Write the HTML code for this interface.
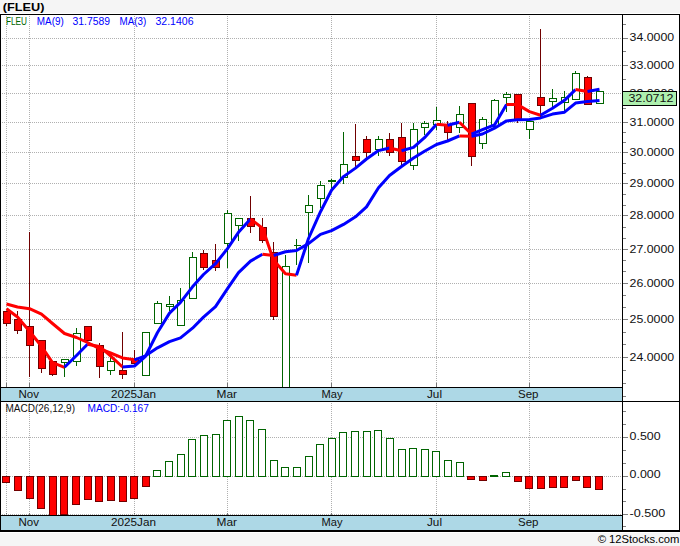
<!DOCTYPE html><html><head><meta charset="utf-8"><title>FLEU</title><style>html,body{margin:0;padding:0;background:#f5f5f5}svg{display:block}text{font-family:"Liberation Sans",sans-serif}</style></head><body>
<svg width="680" height="546" viewBox="0 0 680 546">
<rect x="0" y="0" width="680" height="546" fill="#f5f5f5"/>
<rect x="0" y="13" width="680" height="520" fill="#fff"/>
<rect x="1" y="388" width="621" height="13" fill="#add8e6"/>
<rect x="1" y="516" width="621" height="14" fill="#add8e6"/>
<line x1="6.5" y1="14" x2="6.5" y2="383" stroke="#b0b0b0" stroke-width="1" stroke-dasharray="1,1" shape-rendering="crispEdges"/>
<line x1="6.5" y1="401" x2="6.5" y2="513" stroke="#b0b0b0" stroke-width="1" stroke-dasharray="1,1" shape-rendering="crispEdges"/>
<rect x="6" y="383" width="1" height="4" fill="#777" shape-rendering="crispEdges"/>
<rect x="6" y="513" width="1" height="2" fill="#777" shape-rendering="crispEdges"/>
<line x1="29.5" y1="14" x2="29.5" y2="383" stroke="#b0b0b0" stroke-width="1" stroke-dasharray="1,1" shape-rendering="crispEdges"/>
<line x1="29.5" y1="401" x2="29.5" y2="513" stroke="#b0b0b0" stroke-width="1" stroke-dasharray="1,1" shape-rendering="crispEdges"/>
<rect x="29" y="383" width="1" height="4" fill="#777" shape-rendering="crispEdges"/>
<rect x="29" y="513" width="1" height="2" fill="#777" shape-rendering="crispEdges"/>
<line x1="134.5" y1="14" x2="134.5" y2="383" stroke="#b0b0b0" stroke-width="1" stroke-dasharray="1,1" shape-rendering="crispEdges"/>
<line x1="134.5" y1="401" x2="134.5" y2="513" stroke="#b0b0b0" stroke-width="1" stroke-dasharray="1,1" shape-rendering="crispEdges"/>
<rect x="134" y="383" width="1" height="4" fill="#777" shape-rendering="crispEdges"/>
<rect x="134" y="513" width="1" height="2" fill="#777" shape-rendering="crispEdges"/>
<line x1="227.5" y1="14" x2="227.5" y2="383" stroke="#b0b0b0" stroke-width="1" stroke-dasharray="1,1" shape-rendering="crispEdges"/>
<line x1="227.5" y1="401" x2="227.5" y2="513" stroke="#b0b0b0" stroke-width="1" stroke-dasharray="1,1" shape-rendering="crispEdges"/>
<rect x="227" y="383" width="1" height="4" fill="#777" shape-rendering="crispEdges"/>
<rect x="227" y="513" width="1" height="2" fill="#777" shape-rendering="crispEdges"/>
<line x1="331.5" y1="14" x2="331.5" y2="383" stroke="#b0b0b0" stroke-width="1" stroke-dasharray="1,1" shape-rendering="crispEdges"/>
<line x1="331.5" y1="401" x2="331.5" y2="513" stroke="#b0b0b0" stroke-width="1" stroke-dasharray="1,1" shape-rendering="crispEdges"/>
<rect x="331" y="383" width="1" height="4" fill="#777" shape-rendering="crispEdges"/>
<rect x="331" y="513" width="1" height="2" fill="#777" shape-rendering="crispEdges"/>
<line x1="436.5" y1="14" x2="436.5" y2="383" stroke="#b0b0b0" stroke-width="1" stroke-dasharray="1,1" shape-rendering="crispEdges"/>
<line x1="436.5" y1="401" x2="436.5" y2="513" stroke="#b0b0b0" stroke-width="1" stroke-dasharray="1,1" shape-rendering="crispEdges"/>
<rect x="436" y="383" width="1" height="4" fill="#777" shape-rendering="crispEdges"/>
<rect x="436" y="513" width="1" height="2" fill="#777" shape-rendering="crispEdges"/>
<line x1="529.5" y1="14" x2="529.5" y2="383" stroke="#b0b0b0" stroke-width="1" stroke-dasharray="1,1" shape-rendering="crispEdges"/>
<line x1="529.5" y1="401" x2="529.5" y2="513" stroke="#b0b0b0" stroke-width="1" stroke-dasharray="1,1" shape-rendering="crispEdges"/>
<rect x="529" y="383" width="1" height="4" fill="#777" shape-rendering="crispEdges"/>
<rect x="529" y="513" width="1" height="2" fill="#777" shape-rendering="crispEdges"/>
<line x1="0" y1="38.5" x2="622" y2="38.5" stroke="#b0b0b0" stroke-width="1" stroke-dasharray="1,1" shape-rendering="crispEdges"/>
<line x1="0" y1="65.5" x2="622" y2="65.5" stroke="#b0b0b0" stroke-width="1" stroke-dasharray="1,1" shape-rendering="crispEdges"/>
<line x1="0" y1="93.5" x2="622" y2="93.5" stroke="#b0b0b0" stroke-width="1" stroke-dasharray="1,1" shape-rendering="crispEdges"/>
<line x1="0" y1="122.5" x2="622" y2="122.5" stroke="#b0b0b0" stroke-width="1" stroke-dasharray="1,1" shape-rendering="crispEdges"/>
<line x1="0" y1="152.5" x2="622" y2="152.5" stroke="#b0b0b0" stroke-width="1" stroke-dasharray="1,1" shape-rendering="crispEdges"/>
<line x1="0" y1="183.5" x2="622" y2="183.5" stroke="#b0b0b0" stroke-width="1" stroke-dasharray="1,1" shape-rendering="crispEdges"/>
<line x1="0" y1="215.5" x2="622" y2="215.5" stroke="#b0b0b0" stroke-width="1" stroke-dasharray="1,1" shape-rendering="crispEdges"/>
<line x1="0" y1="249.5" x2="622" y2="249.5" stroke="#b0b0b0" stroke-width="1" stroke-dasharray="1,1" shape-rendering="crispEdges"/>
<line x1="0" y1="283.5" x2="622" y2="283.5" stroke="#b0b0b0" stroke-width="1" stroke-dasharray="1,1" shape-rendering="crispEdges"/>
<line x1="0" y1="319.5" x2="622" y2="319.5" stroke="#b0b0b0" stroke-width="1" stroke-dasharray="1,1" shape-rendering="crispEdges"/>
<line x1="0" y1="357.5" x2="622" y2="357.5" stroke="#b0b0b0" stroke-width="1" stroke-dasharray="1,1" shape-rendering="crispEdges"/>
<line x1="0" y1="437.5" x2="622" y2="437.5" stroke="#b0b0b0" stroke-width="1" stroke-dasharray="1,1" shape-rendering="crispEdges"/>
<line x1="0" y1="476.5" x2="622" y2="476.5" stroke="#b0b0b0" stroke-width="1" stroke-dasharray="1,1" shape-rendering="crispEdges"/>
<line x1="0" y1="514.5" x2="622" y2="514.5" stroke="#b0b0b0" stroke-width="1" stroke-dasharray="1,1" shape-rendering="crispEdges"/>
<defs><clipPath id="cm"><rect x="1" y="15" width="621" height="372"/></clipPath><clipPath id="cd"><rect x="1" y="402" width="621" height="113"/></clipPath></defs>
<g clip-path="url(#cm)" shape-rendering="crispEdges">
<line x1="6.5" y1="311" x2="6.5" y2="326" stroke="#700000" stroke-width="1"/>
<rect x="3.5" y="311.5" width="7" height="12" fill="#ff0000" stroke="#700000" stroke-width="1"/>
<line x1="17.5" y1="311" x2="17.5" y2="334" stroke="#700000" stroke-width="1"/>
<rect x="14.5" y="319.5" width="7" height="11" fill="#ff0000" stroke="#700000" stroke-width="1"/>
<line x1="29.5" y1="232" x2="29.5" y2="377" stroke="#700000" stroke-width="1"/>
<rect x="26.5" y="326.5" width="7" height="19" fill="#ff0000" stroke="#700000" stroke-width="1"/>
<line x1="41.5" y1="340" x2="41.5" y2="373" stroke="#700000" stroke-width="1"/>
<rect x="38.5" y="340.5" width="7" height="28" fill="#ff0000" stroke="#700000" stroke-width="1"/>
<line x1="52.5" y1="361" x2="52.5" y2="376" stroke="#700000" stroke-width="1"/>
<rect x="49.5" y="361.5" width="7" height="13" fill="#ff0000" stroke="#700000" stroke-width="1"/>
<line x1="64.5" y1="359" x2="64.5" y2="377" stroke="#006400" stroke-width="1"/>
<rect x="61.5" y="359.5" width="7" height="3" fill="#fff" stroke="#006400" stroke-width="1"/>
<line x1="76.5" y1="328" x2="76.5" y2="366" stroke="#006400" stroke-width="1"/>
<rect x="73.5" y="333.5" width="7" height="28" fill="#fff" stroke="#006400" stroke-width="1"/>
<line x1="87.5" y1="326" x2="87.5" y2="341" stroke="#700000" stroke-width="1"/>
<rect x="84.5" y="326.5" width="7" height="14" fill="#ff0000" stroke="#700000" stroke-width="1"/>
<line x1="99.5" y1="343" x2="99.5" y2="378" stroke="#700000" stroke-width="1"/>
<rect x="96.5" y="345.5" width="7" height="21" fill="#ff0000" stroke="#700000" stroke-width="1"/>
<line x1="110.5" y1="356" x2="110.5" y2="375" stroke="#006400" stroke-width="1"/>
<rect x="107.5" y="361.5" width="7" height="9" fill="#fff" stroke="#006400" stroke-width="1"/>
<line x1="122.5" y1="332" x2="122.5" y2="379" stroke="#700000" stroke-width="1"/>
<rect x="119.5" y="370.5" width="7" height="4" fill="#ff0000" stroke="#700000" stroke-width="1"/>
<line x1="134.5" y1="350" x2="134.5" y2="364" stroke="#700000" stroke-width="1"/>
<rect x="131.5" y="359.5" width="7" height="4" fill="#ff0000" stroke="#700000" stroke-width="1"/>
<line x1="145.5" y1="332" x2="145.5" y2="376" stroke="#006400" stroke-width="1"/>
<rect x="142.5" y="332.5" width="7" height="43" fill="#fff" stroke="#006400" stroke-width="1"/>
<line x1="157.5" y1="301" x2="157.5" y2="324" stroke="#006400" stroke-width="1"/>
<rect x="154.5" y="303.5" width="7" height="20" fill="#fff" stroke="#006400" stroke-width="1"/>
<line x1="169.5" y1="296" x2="169.5" y2="311" stroke="#006400" stroke-width="1"/>
<rect x="166.5" y="304.5" width="7" height="2" fill="#fff" stroke="#006400" stroke-width="1"/>
<line x1="180.5" y1="288" x2="180.5" y2="326" stroke="#006400" stroke-width="1"/>
<rect x="177.5" y="300.5" width="7" height="25" fill="#fff" stroke="#006400" stroke-width="1"/>
<line x1="192.5" y1="252" x2="192.5" y2="299" stroke="#006400" stroke-width="1"/>
<rect x="189.5" y="257.5" width="7" height="41" fill="#fff" stroke="#006400" stroke-width="1"/>
<line x1="203.5" y1="250" x2="203.5" y2="270" stroke="#700000" stroke-width="1"/>
<rect x="200.5" y="253.5" width="7" height="14" fill="#ff0000" stroke="#700000" stroke-width="1"/>
<line x1="215.5" y1="244" x2="215.5" y2="271" stroke="#700000" stroke-width="1"/>
<rect x="212.5" y="260.5" width="7" height="7" fill="#ff0000" stroke="#700000" stroke-width="1"/>
<line x1="227.5" y1="210" x2="227.5" y2="268" stroke="#006400" stroke-width="1"/>
<rect x="224.5" y="213.5" width="7" height="30" fill="#fff" stroke="#006400" stroke-width="1"/>
<line x1="238.5" y1="218" x2="238.5" y2="241" stroke="#006400" stroke-width="1"/>
<rect x="235.5" y="218.5" width="7" height="7" fill="#fff" stroke="#006400" stroke-width="1"/>
<line x1="250.5" y1="196" x2="250.5" y2="233" stroke="#700000" stroke-width="1"/>
<rect x="247.5" y="218.5" width="7" height="8" fill="#ff0000" stroke="#700000" stroke-width="1"/>
<line x1="262.5" y1="218" x2="262.5" y2="243" stroke="#700000" stroke-width="1"/>
<rect x="259.5" y="227.5" width="7" height="13" fill="#ff0000" stroke="#700000" stroke-width="1"/>
<line x1="273.5" y1="242" x2="273.5" y2="320" stroke="#700000" stroke-width="1"/>
<rect x="270.5" y="252.5" width="7" height="64" fill="#ff0000" stroke="#700000" stroke-width="1"/>
<line x1="285.5" y1="255" x2="285.5" y2="396" stroke="#006400" stroke-width="1"/>
<rect x="282.5" y="266.5" width="7" height="129" fill="#fff" stroke="#006400" stroke-width="1"/>
<line x1="296.5" y1="239" x2="296.5" y2="265" stroke="#006400" stroke-width="1"/>
<rect x="294" y="245" width="7" height="1" fill="#006400"/>
<line x1="308.5" y1="195" x2="308.5" y2="263" stroke="#006400" stroke-width="1"/>
<rect x="305.5" y="205.5" width="7" height="7" fill="#fff" stroke="#006400" stroke-width="1"/>
<line x1="320.5" y1="181" x2="320.5" y2="208" stroke="#006400" stroke-width="1"/>
<rect x="317.5" y="185.5" width="7" height="13" fill="#fff" stroke="#006400" stroke-width="1"/>
<line x1="331.5" y1="179" x2="331.5" y2="191" stroke="#006400" stroke-width="1"/>
<rect x="328.5" y="180.5" width="7" height="1" fill="#fff" stroke="#006400" stroke-width="1"/>
<line x1="343.5" y1="132" x2="343.5" y2="184" stroke="#006400" stroke-width="1"/>
<rect x="340.5" y="164.5" width="7" height="13" fill="#fff" stroke="#006400" stroke-width="1"/>
<line x1="355.5" y1="124" x2="355.5" y2="168" stroke="#700000" stroke-width="1"/>
<rect x="352.5" y="156.5" width="7" height="4" fill="#ff0000" stroke="#700000" stroke-width="1"/>
<line x1="366.5" y1="136" x2="366.5" y2="158" stroke="#700000" stroke-width="1"/>
<rect x="363.5" y="139.5" width="7" height="13" fill="#ff0000" stroke="#700000" stroke-width="1"/>
<line x1="378.5" y1="136" x2="378.5" y2="156" stroke="#006400" stroke-width="1"/>
<rect x="375.5" y="139.5" width="7" height="10" fill="#fff" stroke="#006400" stroke-width="1"/>
<line x1="389.5" y1="133" x2="389.5" y2="156" stroke="#700000" stroke-width="1"/>
<rect x="386.5" y="139.5" width="7" height="13" fill="#ff0000" stroke="#700000" stroke-width="1"/>
<line x1="401.5" y1="123" x2="401.5" y2="165" stroke="#700000" stroke-width="1"/>
<rect x="398.5" y="137.5" width="7" height="24" fill="#ff0000" stroke="#700000" stroke-width="1"/>
<line x1="413.5" y1="123" x2="413.5" y2="170" stroke="#006400" stroke-width="1"/>
<rect x="410.5" y="129.5" width="7" height="36" fill="#fff" stroke="#006400" stroke-width="1"/>
<line x1="424.5" y1="121" x2="424.5" y2="135" stroke="#006400" stroke-width="1"/>
<rect x="421.5" y="123.5" width="7" height="4" fill="#fff" stroke="#006400" stroke-width="1"/>
<line x1="436.5" y1="107" x2="436.5" y2="130" stroke="#006400" stroke-width="1"/>
<rect x="433.5" y="120.5" width="7" height="4" fill="#fff" stroke="#006400" stroke-width="1"/>
<line x1="447.5" y1="121" x2="447.5" y2="141" stroke="#700000" stroke-width="1"/>
<rect x="444.5" y="124.5" width="7" height="8" fill="#ff0000" stroke="#700000" stroke-width="1"/>
<line x1="459.5" y1="106" x2="459.5" y2="133" stroke="#006400" stroke-width="1"/>
<rect x="456.5" y="114.5" width="7" height="13" fill="#fff" stroke="#006400" stroke-width="1"/>
<line x1="471.5" y1="103" x2="471.5" y2="166" stroke="#700000" stroke-width="1"/>
<rect x="468.5" y="103.5" width="7" height="53" fill="#ff0000" stroke="#700000" stroke-width="1"/>
<line x1="482.5" y1="117" x2="482.5" y2="149" stroke="#006400" stroke-width="1"/>
<rect x="479.5" y="119.5" width="7" height="24" fill="#fff" stroke="#006400" stroke-width="1"/>
<line x1="494.5" y1="99" x2="494.5" y2="127" stroke="#006400" stroke-width="1"/>
<rect x="491.5" y="100.5" width="7" height="26" fill="#fff" stroke="#006400" stroke-width="1"/>
<line x1="506.5" y1="92" x2="506.5" y2="112" stroke="#006400" stroke-width="1"/>
<rect x="503.5" y="94.5" width="7" height="3" fill="#fff" stroke="#006400" stroke-width="1"/>
<line x1="517.5" y1="94" x2="517.5" y2="123" stroke="#700000" stroke-width="1"/>
<rect x="514.5" y="94.5" width="7" height="25" fill="#ff0000" stroke="#700000" stroke-width="1"/>
<line x1="529.5" y1="119" x2="529.5" y2="139" stroke="#006400" stroke-width="1"/>
<rect x="526.5" y="121.5" width="7" height="8" fill="#fff" stroke="#006400" stroke-width="1"/>
<line x1="540.5" y1="29" x2="540.5" y2="117" stroke="#700000" stroke-width="1"/>
<rect x="537.5" y="97.5" width="7" height="8" fill="#ff0000" stroke="#700000" stroke-width="1"/>
<line x1="552.5" y1="89" x2="552.5" y2="107" stroke="#006400" stroke-width="1"/>
<rect x="549.5" y="98.5" width="7" height="3" fill="#fff" stroke="#006400" stroke-width="1"/>
<line x1="564.5" y1="91" x2="564.5" y2="112" stroke="#006400" stroke-width="1"/>
<rect x="561.5" y="97.5" width="7" height="5" fill="#fff" stroke="#006400" stroke-width="1"/>
<line x1="575.5" y1="71" x2="575.5" y2="100" stroke="#006400" stroke-width="1"/>
<rect x="572.5" y="73.5" width="7" height="26" fill="#fff" stroke="#006400" stroke-width="1"/>
<line x1="587.5" y1="76" x2="587.5" y2="105" stroke="#700000" stroke-width="1"/>
<rect x="584.5" y="77.5" width="7" height="27" fill="#ff0000" stroke="#700000" stroke-width="1"/>
<line x1="599.5" y1="91" x2="599.5" y2="104" stroke="#006400" stroke-width="1"/>
<rect x="596.5" y="91.5" width="7" height="12" fill="#fff" stroke="#006400" stroke-width="1"/>
</g>
<g clip-path="url(#cm)">
<polyline points="6.5,304.0 17.5,307.0 29.5,308.7 41.5,314.2 52.5,323.5 64.5,333.5 76.5,337.5 87.5,342.5 99.5,348.7 110.5,353.0 122.5,357.9 134.5,359.8" fill="none" stroke="#ff0000" stroke-width="3" stroke-linejoin="round" stroke-linecap="butt"/><polyline points="134.5,359.8 145.5,355.8 157.5,347.8 169.5,341.6 180.5,337.8 192.5,328.2 203.5,317.1 215.5,306.7 227.5,288.7 238.5,272.7 250.5,261.1 262.5,254.2" fill="none" stroke="#0000ff" stroke-width="3" stroke-linejoin="round" stroke-linecap="butt"/><polyline points="262.5,254.2 273.5,255.5" fill="none" stroke="#ff0000" stroke-width="3" stroke-linejoin="round" stroke-linecap="butt"/><polyline points="273.5,255.5 285.5,251.8 296.5,250.5 308.5,243.6 320.5,234.4 331.5,230.6 343.5,224.4 355.5,216.8 366.5,206.9 378.5,187.8 389.5,175.5 401.5,166.5 413.5,158.1 424.5,151.2 436.5,144.5 447.5,141.0 459.5,135.9" fill="none" stroke="#0000ff" stroke-width="3" stroke-linejoin="round" stroke-linecap="butt"/><polyline points="459.5,135.9 471.5,136.3" fill="none" stroke="#ff0000" stroke-width="3" stroke-linejoin="round" stroke-linecap="butt"/><polyline points="471.5,136.3 482.5,134.0 494.5,128.2 506.5,120.9 517.5,119.8 529.5,119.5 540.5,117.9 552.5,114.1 564.5,112.2 575.5,103.1 587.5,101.4 599.5,100.4" fill="none" stroke="#0000ff" stroke-width="3" stroke-linejoin="round" stroke-linecap="butt"/>
<polyline points="6.5,308.8 17.5,317.0 29.5,331.2 41.5,346.3 52.5,362.6 64.5,367.3" fill="none" stroke="#ff0000" stroke-width="3" stroke-linejoin="round" stroke-linecap="butt"/><polyline points="64.5,367.3 76.5,355.5 87.5,344.3" fill="none" stroke="#0000ff" stroke-width="3" stroke-linejoin="round" stroke-linecap="butt"/><polyline points="87.5,344.3 99.5,346.4 110.5,355.8 122.5,367.0" fill="none" stroke="#ff0000" stroke-width="3" stroke-linejoin="round" stroke-linecap="butt"/><polyline points="122.5,367.0 134.5,366.0 145.5,356.3 157.5,332.5 169.5,313.1 180.5,302.4 192.5,286.8 203.5,274.5 215.5,263.7 227.5,248.6 238.5,232.3 250.5,219.0" fill="none" stroke="#0000ff" stroke-width="3" stroke-linejoin="round" stroke-linecap="butt"/><polyline points="250.5,219.0 262.5,228.1 273.5,260.1 285.5,273.7 296.5,275.3" fill="none" stroke="#ff0000" stroke-width="3" stroke-linejoin="round" stroke-linecap="butt"/><polyline points="296.5,275.3 308.5,238.5 320.5,211.7 331.5,190.3 343.5,176.6 355.5,168.1 366.5,159.0 378.5,150.6 389.5,148.0" fill="none" stroke="#0000ff" stroke-width="3" stroke-linejoin="round" stroke-linecap="butt"/><polyline points="389.5,148.0 401.5,150.8" fill="none" stroke="#ff0000" stroke-width="3" stroke-linejoin="round" stroke-linecap="butt"/><polyline points="401.5,150.8 413.5,147.4 424.5,137.7 436.5,124.2" fill="none" stroke="#0000ff" stroke-width="3" stroke-linejoin="round" stroke-linecap="butt"/><polyline points="436.5,124.2 447.5,125.2" fill="none" stroke="#ff0000" stroke-width="3" stroke-linejoin="round" stroke-linecap="butt"/><polyline points="447.5,125.2 459.5,122.2" fill="none" stroke="#0000ff" stroke-width="3" stroke-linejoin="round" stroke-linecap="butt"/><polyline points="459.5,122.2 471.5,134.2" fill="none" stroke="#ff0000" stroke-width="3" stroke-linejoin="round" stroke-linecap="butt"/><polyline points="471.5,134.2 482.5,129.7 494.5,124.9 506.5,104.5" fill="none" stroke="#0000ff" stroke-width="3" stroke-linejoin="round" stroke-linecap="butt"/><polyline points="506.5,104.5 517.5,104.6 529.5,111.6 540.5,115.2" fill="none" stroke="#ff0000" stroke-width="3" stroke-linejoin="round" stroke-linecap="butt"/><polyline points="540.5,115.2 552.5,108.2 564.5,100.3 575.5,89.6" fill="none" stroke="#0000ff" stroke-width="3" stroke-linejoin="round" stroke-linecap="butt"/><polyline points="575.5,89.6 587.5,91.4" fill="none" stroke="#ff0000" stroke-width="3" stroke-linejoin="round" stroke-linecap="butt"/><polyline points="587.5,91.4 599.5,89.3" fill="none" stroke="#0000ff" stroke-width="3" stroke-linejoin="round" stroke-linecap="butt"/>
</g>
<g clip-path="url(#cd)" shape-rendering="crispEdges">
<rect x="2.5" y="476.5" width="7" height="6" fill="#ff0000" stroke="#700000" stroke-width="1"/>
<rect x="14.5" y="476.5" width="7" height="14" fill="#ff0000" stroke="#700000" stroke-width="1"/>
<rect x="26.5" y="476.5" width="7" height="22" fill="#ff0000" stroke="#700000" stroke-width="1"/>
<rect x="37.5" y="476.5" width="7" height="32" fill="#ff0000" stroke="#700000" stroke-width="1"/>
<rect x="49.5" y="476.5" width="7" height="40" fill="#ff0000" stroke="#700000" stroke-width="1"/>
<rect x="60.5" y="476.5" width="7" height="38" fill="#ff0000" stroke="#700000" stroke-width="1"/>
<rect x="72.5" y="476.5" width="7" height="28" fill="#ff0000" stroke="#700000" stroke-width="1"/>
<rect x="84.5" y="476.5" width="7" height="23" fill="#ff0000" stroke="#700000" stroke-width="1"/>
<rect x="95.5" y="476.5" width="7" height="25" fill="#ff0000" stroke="#700000" stroke-width="1"/>
<rect x="107.5" y="476.5" width="7" height="24" fill="#ff0000" stroke="#700000" stroke-width="1"/>
<rect x="119.5" y="476.5" width="7" height="25" fill="#ff0000" stroke="#700000" stroke-width="1"/>
<rect x="130.5" y="476.5" width="7" height="22" fill="#ff0000" stroke="#700000" stroke-width="1"/>
<rect x="142.5" y="476.5" width="7" height="10" fill="#ff0000" stroke="#700000" stroke-width="1"/>
<rect x="153.5" y="470.5" width="7" height="6" fill="#fff" stroke="#006400" stroke-width="1"/>
<rect x="165.5" y="461.5" width="7" height="15" fill="#fff" stroke="#006400" stroke-width="1"/>
<rect x="177.5" y="454.5" width="7" height="22" fill="#fff" stroke="#006400" stroke-width="1"/>
<rect x="188.5" y="439.5" width="7" height="37" fill="#fff" stroke="#006400" stroke-width="1"/>
<rect x="200.5" y="435.5" width="7" height="41" fill="#fff" stroke="#006400" stroke-width="1"/>
<rect x="212.5" y="434.5" width="7" height="42" fill="#fff" stroke="#006400" stroke-width="1"/>
<rect x="223.5" y="420.5" width="7" height="56" fill="#fff" stroke="#006400" stroke-width="1"/>
<rect x="235.5" y="416.5" width="7" height="60" fill="#fff" stroke="#006400" stroke-width="1"/>
<rect x="246.5" y="420.5" width="7" height="56" fill="#fff" stroke="#006400" stroke-width="1"/>
<rect x="258.5" y="429.5" width="7" height="47" fill="#fff" stroke="#006400" stroke-width="1"/>
<rect x="270.5" y="460.5" width="7" height="16" fill="#fff" stroke="#006400" stroke-width="1"/>
<rect x="281.5" y="467.5" width="7" height="9" fill="#fff" stroke="#006400" stroke-width="1"/>
<rect x="293.5" y="467.5" width="7" height="9" fill="#fff" stroke="#006400" stroke-width="1"/>
<rect x="305.5" y="456.5" width="7" height="20" fill="#fff" stroke="#006400" stroke-width="1"/>
<rect x="316.5" y="444.5" width="7" height="32" fill="#fff" stroke="#006400" stroke-width="1"/>
<rect x="328.5" y="438.5" width="7" height="38" fill="#fff" stroke="#006400" stroke-width="1"/>
<rect x="339.5" y="432.5" width="7" height="44" fill="#fff" stroke="#006400" stroke-width="1"/>
<rect x="351.5" y="431.5" width="7" height="45" fill="#fff" stroke="#006400" stroke-width="1"/>
<rect x="363.5" y="431.5" width="7" height="45" fill="#fff" stroke="#006400" stroke-width="1"/>
<rect x="374.5" y="430.5" width="7" height="46" fill="#fff" stroke="#006400" stroke-width="1"/>
<rect x="386.5" y="438.5" width="7" height="38" fill="#fff" stroke="#006400" stroke-width="1"/>
<rect x="398.5" y="449.5" width="7" height="27" fill="#fff" stroke="#006400" stroke-width="1"/>
<rect x="409.5" y="448.5" width="7" height="28" fill="#fff" stroke="#006400" stroke-width="1"/>
<rect x="421.5" y="449.5" width="7" height="27" fill="#fff" stroke="#006400" stroke-width="1"/>
<rect x="432.5" y="451.5" width="7" height="25" fill="#fff" stroke="#006400" stroke-width="1"/>
<rect x="444.5" y="460.5" width="7" height="16" fill="#fff" stroke="#006400" stroke-width="1"/>
<rect x="456.5" y="462.5" width="7" height="14" fill="#fff" stroke="#006400" stroke-width="1"/>
<rect x="467.5" y="476.5" width="7" height="3" fill="#ff0000" stroke="#700000" stroke-width="1"/>
<rect x="479.5" y="476.5" width="7" height="4" fill="#ff0000" stroke="#700000" stroke-width="1"/>
<rect x="490.5" y="475.5" width="7" height="1" fill="#fff" stroke="#006400" stroke-width="1"/>
<rect x="502.5" y="472.5" width="7" height="4" fill="#fff" stroke="#006400" stroke-width="1"/>
<rect x="514.5" y="476.5" width="7" height="5" fill="#ff0000" stroke="#700000" stroke-width="1"/>
<rect x="525.5" y="476.5" width="7" height="12" fill="#ff0000" stroke="#700000" stroke-width="1"/>
<rect x="537.5" y="476.5" width="7" height="12" fill="#ff0000" stroke="#700000" stroke-width="1"/>
<rect x="549.5" y="476.5" width="7" height="11" fill="#ff0000" stroke="#700000" stroke-width="1"/>
<rect x="560.5" y="476.5" width="7" height="11" fill="#ff0000" stroke="#700000" stroke-width="1"/>
<rect x="572.5" y="476.5" width="7" height="4" fill="#ff0000" stroke="#700000" stroke-width="1"/>
<rect x="583.5" y="476.5" width="7" height="11" fill="#ff0000" stroke="#700000" stroke-width="1"/>
<rect x="595.5" y="476.5" width="7" height="13" fill="#ff0000" stroke="#700000" stroke-width="1"/>
</g>
<rect x="0" y="14" width="680" height="1" fill="#000" shape-rendering="crispEdges"/>
<rect x="0" y="14" width="1" height="518" fill="#000" shape-rendering="crispEdges"/>
<rect x="679" y="14" width="1" height="518" fill="#000" shape-rendering="crispEdges"/>
<rect x="0" y="530" width="680" height="2" fill="#000" shape-rendering="crispEdges"/>
<rect x="622" y="14" width="1" height="517" fill="#000" shape-rendering="crispEdges"/>
<rect x="0" y="387" width="623" height="1" fill="#000" shape-rendering="crispEdges"/>
<rect x="0" y="401" width="680" height="1" fill="#000" shape-rendering="crispEdges"/>
<rect x="0" y="515" width="623" height="1" fill="#000" shape-rendering="crispEdges"/>
<line x1="623" y1="38.5" x2="628" y2="38.5" stroke="#808080" stroke-width="1" shape-rendering="crispEdges"/>
<line x1="623" y1="65.5" x2="628" y2="65.5" stroke="#808080" stroke-width="1" shape-rendering="crispEdges"/>
<line x1="623" y1="93.5" x2="628" y2="93.5" stroke="#808080" stroke-width="1" shape-rendering="crispEdges"/>
<line x1="623" y1="122.5" x2="628" y2="122.5" stroke="#808080" stroke-width="1" shape-rendering="crispEdges"/>
<line x1="623" y1="152.5" x2="628" y2="152.5" stroke="#808080" stroke-width="1" shape-rendering="crispEdges"/>
<line x1="623" y1="183.5" x2="628" y2="183.5" stroke="#808080" stroke-width="1" shape-rendering="crispEdges"/>
<line x1="623" y1="215.5" x2="628" y2="215.5" stroke="#808080" stroke-width="1" shape-rendering="crispEdges"/>
<line x1="623" y1="249.5" x2="628" y2="249.5" stroke="#808080" stroke-width="1" shape-rendering="crispEdges"/>
<line x1="623" y1="283.5" x2="628" y2="283.5" stroke="#808080" stroke-width="1" shape-rendering="crispEdges"/>
<line x1="623" y1="319.5" x2="628" y2="319.5" stroke="#808080" stroke-width="1" shape-rendering="crispEdges"/>
<line x1="623" y1="357.5" x2="628" y2="357.5" stroke="#808080" stroke-width="1" shape-rendering="crispEdges"/>
<line x1="623" y1="24.5" x2="626" y2="24.5" stroke="#808080" stroke-width="1" shape-rendering="crispEdges"/>
<line x1="623" y1="51.5" x2="626" y2="51.5" stroke="#808080" stroke-width="1" shape-rendering="crispEdges"/>
<line x1="623" y1="79.5" x2="626" y2="79.5" stroke="#808080" stroke-width="1" shape-rendering="crispEdges"/>
<line x1="623" y1="108.5" x2="626" y2="108.5" stroke="#808080" stroke-width="1" shape-rendering="crispEdges"/>
<line x1="623" y1="132.5" x2="626" y2="132.5" stroke="#808080" stroke-width="1" shape-rendering="crispEdges"/>
<line x1="623" y1="142.5" x2="626" y2="142.5" stroke="#808080" stroke-width="1" shape-rendering="crispEdges"/>
<line x1="623" y1="163.5" x2="626" y2="163.5" stroke="#808080" stroke-width="1" shape-rendering="crispEdges"/>
<line x1="623" y1="173.5" x2="626" y2="173.5" stroke="#808080" stroke-width="1" shape-rendering="crispEdges"/>
<line x1="623" y1="194.5" x2="626" y2="194.5" stroke="#808080" stroke-width="1" shape-rendering="crispEdges"/>
<line x1="623" y1="205.5" x2="626" y2="205.5" stroke="#808080" stroke-width="1" shape-rendering="crispEdges"/>
<line x1="623" y1="227.5" x2="626" y2="227.5" stroke="#808080" stroke-width="1" shape-rendering="crispEdges"/>
<line x1="623" y1="238.5" x2="626" y2="238.5" stroke="#808080" stroke-width="1" shape-rendering="crispEdges"/>
<line x1="623" y1="260.5" x2="626" y2="260.5" stroke="#808080" stroke-width="1" shape-rendering="crispEdges"/>
<line x1="623" y1="271.5" x2="626" y2="271.5" stroke="#808080" stroke-width="1" shape-rendering="crispEdges"/>
<line x1="623" y1="295.5" x2="626" y2="295.5" stroke="#808080" stroke-width="1" shape-rendering="crispEdges"/>
<line x1="623" y1="307.5" x2="626" y2="307.5" stroke="#808080" stroke-width="1" shape-rendering="crispEdges"/>
<line x1="623" y1="332.5" x2="626" y2="332.5" stroke="#808080" stroke-width="1" shape-rendering="crispEdges"/>
<line x1="623" y1="344.5" x2="626" y2="344.5" stroke="#808080" stroke-width="1" shape-rendering="crispEdges"/>
<line x1="623" y1="370.5" x2="626" y2="370.5" stroke="#808080" stroke-width="1" shape-rendering="crispEdges"/>
<line x1="623" y1="383.5" x2="626" y2="383.5" stroke="#808080" stroke-width="1" shape-rendering="crispEdges"/>
<line x1="623" y1="396.5" x2="626" y2="396.5" stroke="#808080" stroke-width="1" shape-rendering="crispEdges"/>
<line x1="623" y1="437.5" x2="628" y2="437.5" stroke="#808080" stroke-width="1" shape-rendering="crispEdges"/>
<line x1="623" y1="476.5" x2="628" y2="476.5" stroke="#808080" stroke-width="1" shape-rendering="crispEdges"/>
<line x1="623" y1="514.5" x2="628" y2="514.5" stroke="#808080" stroke-width="1" shape-rendering="crispEdges"/>
<line x1="623" y1="411.5" x2="626" y2="411.5" stroke="#808080" stroke-width="1" shape-rendering="crispEdges"/>
<line x1="623" y1="424.5" x2="626" y2="424.5" stroke="#808080" stroke-width="1" shape-rendering="crispEdges"/>
<line x1="623" y1="450.5" x2="626" y2="450.5" stroke="#808080" stroke-width="1" shape-rendering="crispEdges"/>
<line x1="623" y1="463.5" x2="626" y2="463.5" stroke="#808080" stroke-width="1" shape-rendering="crispEdges"/>
<line x1="623" y1="489.5" x2="626" y2="489.5" stroke="#808080" stroke-width="1" shape-rendering="crispEdges"/>
<line x1="623" y1="501.5" x2="626" y2="501.5" stroke="#808080" stroke-width="1" shape-rendering="crispEdges"/>
<line x1="623" y1="526.5" x2="626" y2="526.5" stroke="#808080" stroke-width="1" shape-rendering="crispEdges"/>
<text x="629.6" y="41" font-size="10.6" fill="#111" textLength="44.6" lengthAdjust="spacingAndGlyphs">34.0000</text>
<text x="629.6" y="68.6" font-size="10.6" fill="#111" textLength="44.6" lengthAdjust="spacingAndGlyphs">33.0000</text>
<text x="629.6" y="97" font-size="10.6" fill="#111" textLength="44.6" lengthAdjust="spacingAndGlyphs">32.0000</text>
<text x="629.6" y="126" font-size="10.6" fill="#111" textLength="44.6" lengthAdjust="spacingAndGlyphs">31.0000</text>
<text x="629.6" y="156" font-size="10.6" fill="#111" textLength="44.6" lengthAdjust="spacingAndGlyphs">30.0000</text>
<text x="629.6" y="187" font-size="10.6" fill="#111" textLength="44.6" lengthAdjust="spacingAndGlyphs">29.0000</text>
<text x="629.6" y="219" font-size="10.6" fill="#111" textLength="44.6" lengthAdjust="spacingAndGlyphs">28.0000</text>
<text x="629.6" y="253" font-size="10.6" fill="#111" textLength="44.6" lengthAdjust="spacingAndGlyphs">27.0000</text>
<text x="629.6" y="287" font-size="10.6" fill="#111" textLength="44.6" lengthAdjust="spacingAndGlyphs">26.0000</text>
<text x="629.6" y="323" font-size="10.6" fill="#111" textLength="44.6" lengthAdjust="spacingAndGlyphs">25.0000</text>
<text x="629.6" y="361" font-size="10.6" fill="#111" textLength="44.6" lengthAdjust="spacingAndGlyphs">24.0000</text>
<text x="629.6" y="440.3" font-size="10.6" fill="#111" textLength="31" lengthAdjust="spacingAndGlyphs">0.500</text>
<text x="629.6" y="478.20000000000005" font-size="10.6" fill="#111" textLength="31" lengthAdjust="spacingAndGlyphs">0.000</text>
<text x="629.6" y="517.0" font-size="10.6" fill="#111" textLength="35.8" lengthAdjust="spacingAndGlyphs">-0.500</text>
<rect x="622.5" y="91.5" width="54" height="14" fill="#aef0ae" stroke="#000" stroke-width="1" shape-rendering="crispEdges"/>
<text x="628.4" y="102" font-size="10.9" fill="#111" textLength="45" lengthAdjust="spacingAndGlyphs">32.0712</text>
<text x="18.5" y="398" font-size="10.6" fill="#111" textLength="20.5" lengthAdjust="spacingAndGlyphs">Nov</text>
<text x="111" y="398" font-size="10.6" fill="#111" textLength="45" lengthAdjust="spacingAndGlyphs">2025Jan</text>
<text x="216.5" y="398" font-size="10.6" fill="#111" textLength="20.5" lengthAdjust="spacingAndGlyphs">Mar</text>
<text x="321.5" y="398" font-size="10.6" fill="#111" textLength="21" lengthAdjust="spacingAndGlyphs">May</text>
<text x="427" y="398" font-size="10.6" fill="#111" textLength="15" lengthAdjust="spacingAndGlyphs">Jul</text>
<text x="518" y="398" font-size="10.6" fill="#111" textLength="20.5" lengthAdjust="spacingAndGlyphs">Sep</text>
<text x="18.5" y="526" font-size="10.6" fill="#111" textLength="20.5" lengthAdjust="spacingAndGlyphs">Nov</text>
<text x="111" y="526" font-size="10.6" fill="#111" textLength="45" lengthAdjust="spacingAndGlyphs">2025Jan</text>
<text x="216.5" y="526" font-size="10.6" fill="#111" textLength="20.5" lengthAdjust="spacingAndGlyphs">Mar</text>
<text x="321.5" y="526" font-size="10.6" fill="#111" textLength="21" lengthAdjust="spacingAndGlyphs">May</text>
<text x="427" y="526" font-size="10.6" fill="#111" textLength="15" lengthAdjust="spacingAndGlyphs">Jul</text>
<text x="518" y="526" font-size="10.6" fill="#111" textLength="20.5" lengthAdjust="spacingAndGlyphs">Sep</text>
<text x="2.8" y="11" font-size="11.2" font-weight="bold" fill="#000" textLength="41.6" lengthAdjust="spacingAndGlyphs">(FLEU)</text>
<text x="6" y="25" font-size="10.3" fill="#006400" textLength="21" lengthAdjust="spacingAndGlyphs">FLEU</text>
<text x="36.75" y="25" font-size="10.3" fill="#0000ff" textLength="27" lengthAdjust="spacingAndGlyphs">MA(9)</text>
<text x="72.5" y="25" font-size="10.3" fill="#0000ff" textLength="37.5" lengthAdjust="spacingAndGlyphs">31.7589</text>
<text x="119.5" y="25" font-size="10.3" fill="#0000ff" textLength="26.75" lengthAdjust="spacingAndGlyphs">MA(3)</text>
<text x="155.5" y="25" font-size="10.3" fill="#0000ff" textLength="38" lengthAdjust="spacingAndGlyphs">32.1406</text>
<text x="5.5" y="412" font-size="10.3" fill="#111" textLength="69.5" lengthAdjust="spacingAndGlyphs">MACD(26,12,9)</text>
<text x="87.5" y="412" font-size="10.3" fill="#0000ff" textLength="61.25" lengthAdjust="spacingAndGlyphs">MACD:-0.167</text>
<text x="597.7" y="542.6" font-size="11.4" fill="#000" textLength="8.4" lengthAdjust="spacingAndGlyphs">©</text>
<text x="608.9" y="542.6" font-size="11.4" fill="#000" textLength="70.6" lengthAdjust="spacingAndGlyphs">12Stocks.com</text>
</svg></body></html>
